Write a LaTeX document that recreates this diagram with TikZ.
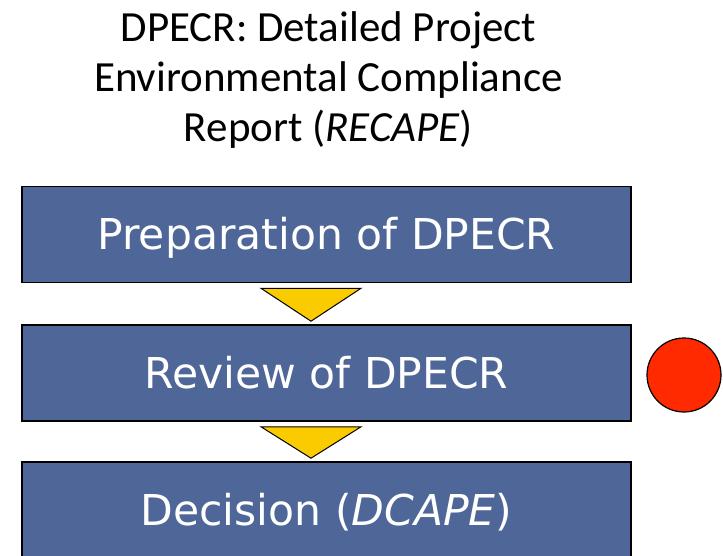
\documentclass[tikz,border=0pt]{standalone}
\usepackage{fontspec}
\setmainfont{Carlito}
\newfontfamily\boxfont{DejaVu Sans}
\definecolor{boxblue}{RGB}{79,102,152}
\definecolor{triyellow}{RGB}{250,204,0}
\definecolor{dotred}{RGB}{255,42,0}
\usetikzlibrary{calc}
\begin{document}
\begin{tikzpicture}[x=1pt, y=-1pt,
    stage/.style={draw=black, line width=1.6pt, fill=boxblue, text=white, minimum width=609pt, minimum height=96pt, text height=36pt, text depth=6pt, font=\boxfont\fontsize{42.5}{48}\selectfont},
    tri/.style={draw=black, line width=1pt, fill=triyellow, line join=miter}]
    \useasboundingbox (0,0) rectangle (723,556);
    % Titre
    \node[align=center, font=\fontsize{43}{50}\selectfont] (title) at (328.5,80) {DPECR: Detailed Project\\Environmental Compliance\\Report (\textit{RECAPE})};

    % Etapes
    \node[stage] (prep) at (326.5,234.5) {Preparation of DPECR};
    \node[stage] (review) at (326.5,373) {Review of DPECR};
    \node[stage] (decision) at (326.5,510) {Decision (\textit{DCAPE})};

    % Fleches
    \draw[tri] ($(prep.south)+(-65.5,5)$) -- ($(prep.south)+(34.5,5)$) -- ($(review.north)+(-15.5,-3)$) -- cycle;
    \draw[tri] ($(review.south)+(-65.5,5)$) -- ($(review.south)+(34.5,5)$) -- ($(decision.north)+(-15.5,-3)$) -- cycle;

    % Statut
    \node[draw=black, line width=1.2pt, fill=dotred, circle, minimum size=74pt, inner sep=0pt] (status) at (684,375) {};
\end{tikzpicture}
\end{document}
